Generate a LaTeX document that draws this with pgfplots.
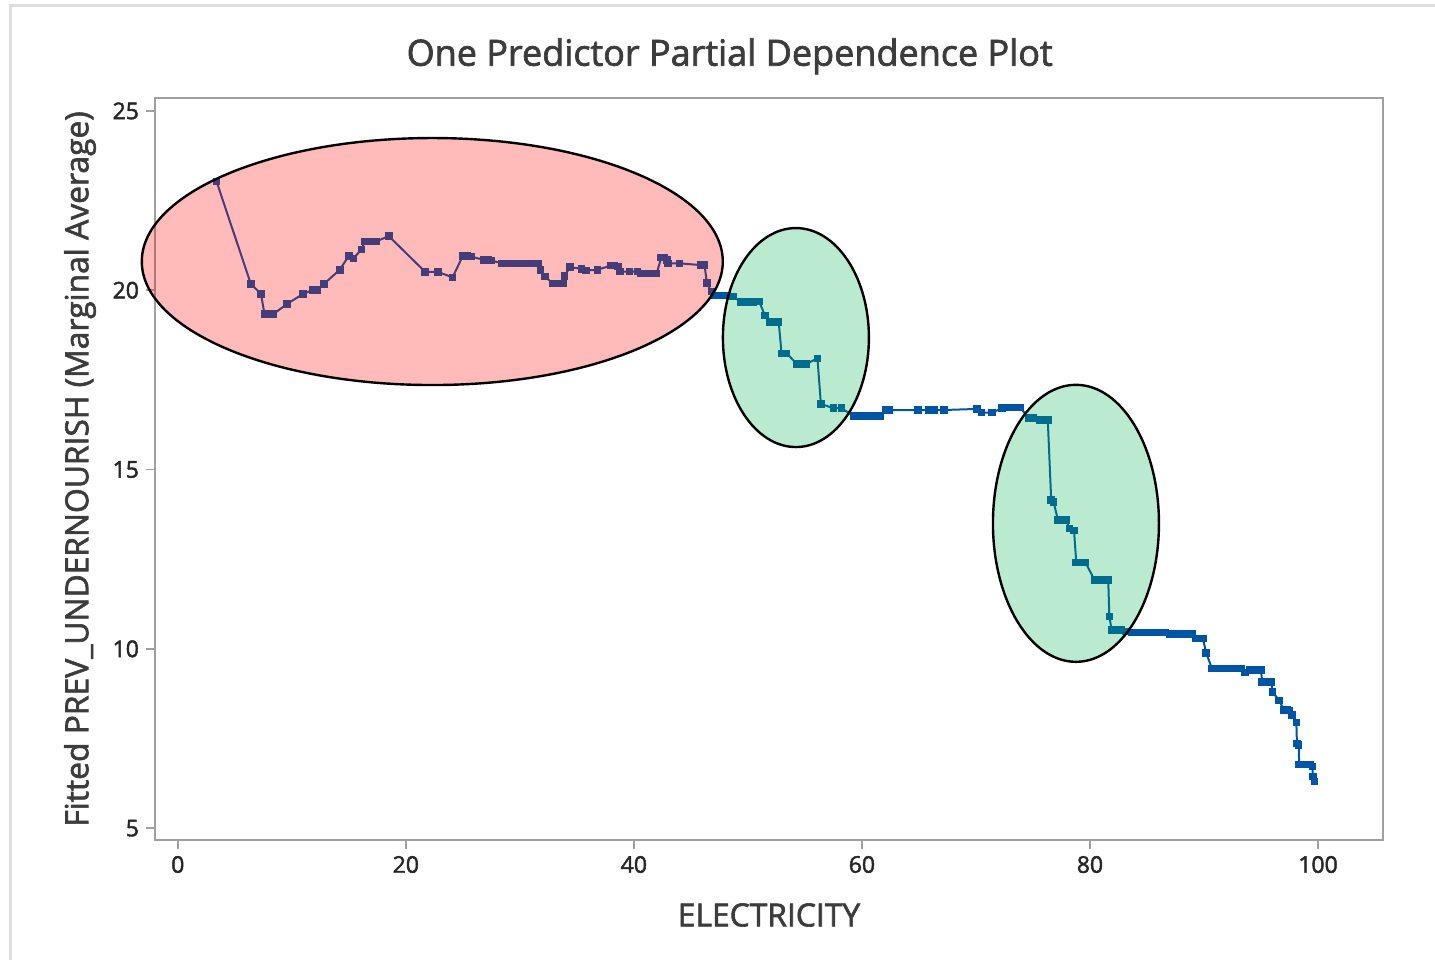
\documentclass[border=0pt]{standalone}
\usepackage{pgfplots}
\pgfplotsset{compat=1.18}
\usepackage{fontspec}
\setmainfont{Open Sans}
\newfontfamily\semifont[FakeBold=2]{Open Sans}
\definecolor{pdline}{RGB}{0,84,166}
\definecolor{framegray}{RGB}{160,160,160}
\definecolor{titlegray}{RGB}{60,60,60}
\definecolor{hlred}{RGB}{255,0,0}
\definecolor{hlgreen}{RGB}{0,176,80}

\begin{document}
\begin{tikzpicture}
% overall canvas and light outer frame
\path[use as bounding box] (-77.5pt,-60pt) rectangle (640pt,420pt);
\draw[gray!25, line width=1.5pt] (-72pt,-60pt) -- (-72pt,417pt) -- (640pt,417pt);
\begin{axis}[
  scale only axis,
  width=614pt, height=371pt,
  xmin=-2, xmax=105.7,
  ymin=4.67, ymax=25.36,
  xtick={0,20,...,100},
  ytick={5,10,...,25},
  tick align=outside,
  major tick length=4.5pt,
  tick style={framegray, line width=0.8pt},
  axis line style={framegray, line width=1pt},
  xtick pos=bottom, ytick pos=left,
  /pgf/number format/assume math mode=true,
  tick label style={font=\semifont\fontsize{11.5}{13}\selectfont, text=black!85},
  xlabel={ELECTRICITY},
  ylabel={Fitted PREV\_UNDERNOURISH (Marginal Average)},
  label style={font=\semifont\fontsize{15.9}{18}\selectfont, text=titlegray},
  xlabel style={at={(axis description cs:0.5,-0.1011)}, anchor=center},
  ylabel style={at={(axis description cs:-0.0611,0.5)}, anchor=center},
  title={One Predictor Partial Dependence Plot},
  title style={at={(axis description cs:0.468,1.04)}, anchor=center,
               font=\semifont\fontsize{18}{21}\selectfont, text=titlegray},
  clip=false,
]
\addplot[pdline, line width=1pt, mark=square*, mark size=1.4pt,
         mark options={solid, fill=pdline, draw=pdline}] coordinates {
(3.4,23.03) (6.4,20.18) (7.3,19.89) (7.6,19.34) (8.0,19.34) (8.4,19.34)
(9.6,19.62) (11.0,19.90) (11.8,20.0) (12.2,20.0) (12.8,20.17) (14.2,20.57)
(15.0,20.96) (15.4,20.89) (16.1,21.13) (16.4,21.36) (16.8,21.36) (17.1,21.36)
(17.4,21.36) (18.5,21.51) (21.7,20.51) (22.8,20.51) (24.1,20.36) (25.0,20.96)
(25.4,20.96) (25.7,20.94) (26.8,20.85) (27.2,20.85) (27.5,20.83) (28.4,20.75)
(28.8,20.75) (29.2,20.75) (29.6,20.75) (30.0,20.75) (30.4,20.75) (30.8,20.75)
(31.2,20.75) (31.6,20.75) (31.8,20.57) (32.2,20.38) (32.9,20.19) (33.3,20.19)
(33.8,20.19) (33.9,20.40) (34.4,20.64) (35.4,20.60) (35.8,20.55) (36.8,20.57)
(38.0,20.69) (38.3,20.69) (38.6,20.66) (38.8,20.52) (39.6,20.52) (40.3,20.52)
(40.6,20.47) (41.0,20.47) (41.4,20.47) (41.8,20.47) (42.0,20.47) (42.4,20.91)
(42.7,20.91) (42.9,20.85) (43.0,20.75) (44.0,20.75) (45.9,20.70) (46.2,20.70)
(46.4,20.20) (46.8,19.96) (47.0,19.85) (47.4,19.85) (47.8,19.85) (48.2,19.85)
(48.7,19.82) (49.4,19.67) (49.8,19.67) (50.2,19.67) (50.5,19.67) (51.0,19.68)
(51.5,19.29) (51.9,19.12) (52.3,19.12) (52.7,19.12) (52.95,18.24) (53.4,18.24)
(54.3,17.94) (54.7,17.94) (55.1,17.94) (56.1,18.10) (56.4,16.83) (57.5,16.71)
(58.2,16.71) (59.3,16.49) (59.7,16.49) (60.1,16.49) (60.5,16.49) (60.9,16.49)
(61.3,16.49) (61.6,16.49) (62.1,16.66) (62.4,16.66) (64.9,16.66) (65.9,16.66)
(66.3,16.66) (67.2,16.66) (70.1,16.69) (70.5,16.59) (71.4,16.59) (72.3,16.71)
(73.0,16.73) (73.5,16.73) (73.9,16.73) (74.6,16.43) (75.0,16.43) (75.6,16.38)
(76.3,16.38) (76.6,14.15) (76.8,14.10) (77.2,13.59) (77.6,13.59) (77.9,13.59)
(78.2,13.36) (78.6,13.30) (78.8,12.41) (79.2,12.41) (79.6,12.41) (80.4,11.92)
(80.8,11.92) (81.2,11.92) (81.6,11.92) (81.7,10.90) (81.9,10.53) (82.3,10.53)
(82.7,10.53) (83.1,10.48) (83.7,10.46) (84.1,10.46) (84.4,10.46) (85.0,10.46)
(85.4,10.46) (85.8,10.46) (86.2,10.46) (86.6,10.46) (87.0,10.41) (87.5,10.41)
(88.0,10.41) (88.6,10.42) (89.0,10.42) (89.3,10.29) (89.9,10.29) (90.2,9.88)
(90.7,9.45) (91.1,9.45) (91.5,9.45) (91.9,9.45) (92.3,9.45) (92.7,9.45)
(93.3,9.45) (93.6,9.34) (94.0,9.41) (94.5,9.41) (95.0,9.41) (95.1,9.08)
(95.5,9.08) (95.9,9.08) (96.0,8.80) (96.6,8.56) (97.0,8.30) (97.3,8.30)
(97.5,8.28) (97.7,8.16) (98.1,7.95) (98.15,7.36) (98.3,7.32) (98.35,6.78)
(98.7,6.78) (99.0,6.78) (99.3,6.78) (99.5,6.72) (99.55,6.44) (99.7,6.30)
};
% centres of the highlighted regions
\coordinate (hlA) at (axis cs:22.32,20.80);
\coordinate (hlB) at (axis cs:54.21,18.68);
\coordinate (hlC) at (axis cs:78.77,13.50);
\end{axis}
% highlighted regions, laid over the curve and its marks
\draw[fill=hlred, fill opacity=0.27, draw=black, line width=1.2pt]
  (hlA) ellipse [x radius=145.25pt, y radius=61.75pt];
\draw[fill=hlgreen, fill opacity=0.27, draw=black, line width=1.2pt]
  (hlB) ellipse [x radius=36.5pt, y radius=54.75pt];
\draw[fill=hlgreen, fill opacity=0.27, draw=black, line width=1.2pt]
  (hlC) ellipse [x radius=41.5pt, y radius=69.25pt];
\end{tikzpicture}
\end{document}
